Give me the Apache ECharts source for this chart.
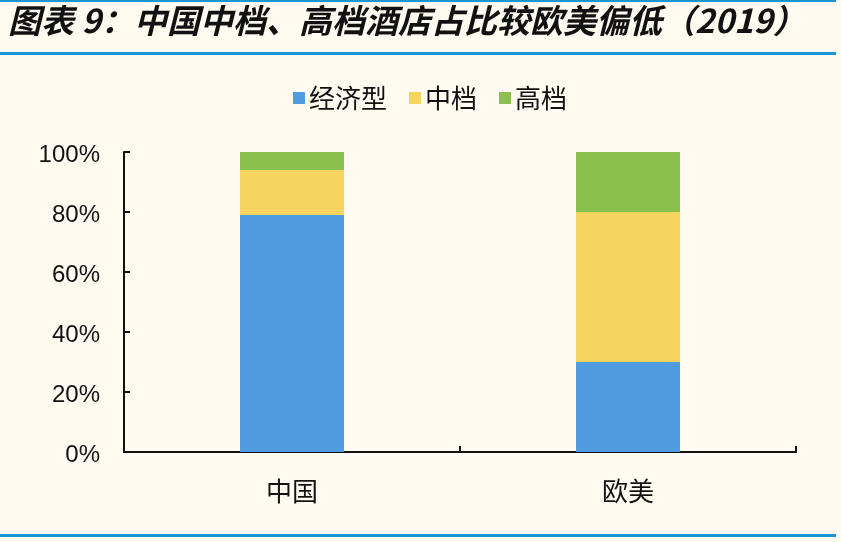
<!DOCTYPE html>
<html>
<head>
<meta charset="utf-8">
<script src="https://cdn.jsdelivr.net/npm/echarts@6/dist/echarts.min.js"></script>
<style>
html,body{margin:0;padding:0;background:#FFFBF1;}
#main{width:841px;height:542px;}
</style>
</head>
<body>
<div id="main"></div>
<script>
const categories = ['中国', '欧美'];
const economy = [79, 30];
const midscale = [15, 50];
const upscale = [6, 20];
const seriesNames = ['经济型', '中档', '高档'];
const yTicks = [0, 20, 40, 60, 80, 100];

const chart = echarts.init(document.getElementById('main'));
const cjk = '"Noto Sans CJK SC", sans-serif';
const lineColor = '#1B95D6';
const option = {
  backgroundColor: '#FFFBF1',
  animation: false,
  title: {
    text: '图表 9：中国中档、高档酒店占比较欧美偏低（2019）',
    left: 3,
    top: -1,
    textStyle: {
      fontFamily: cjk,
      fontSize: 33,
      fontWeight: 'bold',
      fontStyle: 'italic',
      color: '#111'
    }
  },
  graphic: [
    { type: 'rect', shape: { x: 0, y: 0, width: 836, height: 2 }, style: { fill: lineColor } },
    { type: 'rect', shape: { x: 0, y: 52, width: 836, height: 3 }, style: { fill: lineColor } },
    { type: 'rect', shape: { x: 0, y: 534, width: 836, height: 3 }, style: { fill: lineColor } }
  ],
  legend: {
    left: 288,
    top: 80,
    itemWidth: 12,
    itemHeight: 12,
    itemGap: 22,
    icon: 'rect',
    textStyle: { fontFamily: cjk, fontSize: 26, color: '#111', padding: [0, 0, 0, -1] },
    data: seriesNames
  },
  grid: { left: 124, right: 45, top: 152, bottom: 90 },
  xAxis: {
    type: 'category',
    data: categories,
    axisLine: { lineStyle: { color: '#111', width: 2 } },
    axisTick: { show: true, inside: true, length: 6, lineStyle: { color: '#111', width: 2 } },
    axisLabel: { margin: 26, fontFamily: cjk, fontSize: 26, color: '#111' }
  },
  yAxis: {
    type: 'value',
    min: 0,
    max: 100,
    interval: 20,
    splitLine: { show: false },
    axisLine: { show: true, lineStyle: { color: '#111', width: 2 } },
    axisTick: { show: true, inside: true, length: 6, lineStyle: { color: '#111', width: 2 } },
    axisLabel: {
      margin: 24,
      color: '#111',
      formatter: v => (yTicks.indexOf(v) >= 0 ? '{a|' + v + '%}' : ''),
      rich: {
        a: {
          fontFamily: '"Liberation Sans", Arial, sans-serif',
          fontSize: 24,
          color: '#111',
          padding: [7, 0, 0, 0]
        }
      }
    }
  },
  series: [
    { name: seriesNames[0], type: 'bar', stack: 'a', data: economy, barWidth: 104, itemStyle: { color: '#4F9DE0' } },
    { name: seriesNames[1], type: 'bar', stack: 'a', data: midscale, barWidth: 104, itemStyle: { color: '#F7D35F' } },
    { name: seriesNames[2], type: 'bar', stack: 'a', data: upscale, barWidth: 104, itemStyle: { color: '#8BBF4E' } }
  ]
};
chart.setOption(option);
</script>
</body>
</html>
